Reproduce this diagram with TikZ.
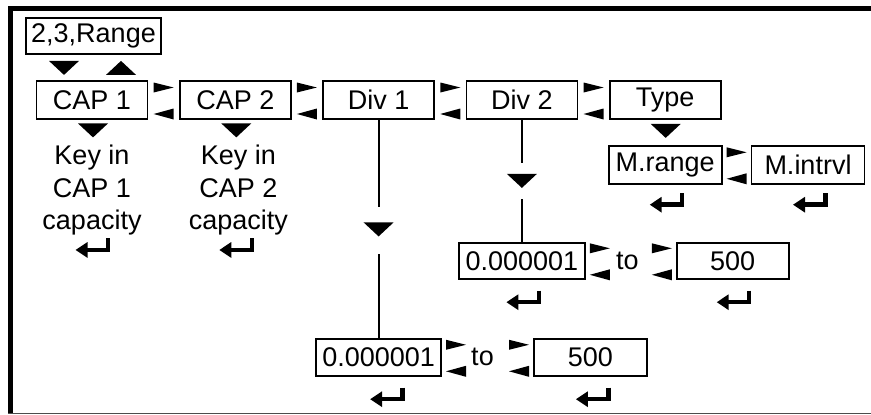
\documentclass[tikz,border=0pt]{standalone}
\usepackage{fontspec}
\setmainfont{Liberation Sans}
\usetikzlibrary{arrows.meta, positioning, calc}

\begin{document}
\begin{tikzpicture}[
    x=1pt, y=1pt,
    box/.style={rectangle, draw, line width=1.8pt, minimum width=#1, minimum height=38pt, inner sep=1pt, font=\fontsize{27}{32}\selectfont},
    box/.default={111pt},
    note/.style={align=center, inner sep=0pt, font=\fontsize{27}{32.5}\selectfont},
    wire/.style={line width=1.8pt},
    dtri/.pic={\fill (-15,7) -- (15,7) -- (0,-7) -- cycle;},
    utri/.pic={\fill (-15,-7) -- (15,-7) -- (0,7) -- cycle;},
    nav/.pic={\fill (-10,17.5) -- (10,12.5) -- (-10,7.5) -- cycle;
              \fill (10,-8.5) -- (-10,-14) -- (10,-19.5) -- cycle;},
    ret/.pic={\draw[line width=4.5pt, -{Triangle[length=12pt,width=15pt]}] (15,9.5) -- (15,-2) -- (-17.5,-2);},
]
    \useasboundingbox (0,0) rectangle (871,-415);

    % Frame
    \fill (8,-6) rectangle (871,-11);
    \fill (8,-6) rectangle (13,-413);
    \draw[black!70, line width=1.5pt] (8,-413.5) -- (871,-413.5);

    % Top row
    \node[box=135pt, minimum height=36pt] (range) at (93.5,-36) {2,3,Range};
    \node[box] (cap1) at (92,-100) {CAP 1};
    \node[box, right=30.5pt of cap1] (cap2) {CAP 2};
    \node[box, right=30.5pt of cap2] (div1) {Div 1};
    \node[box, right=30.5pt of div1] (div2) {Div 2};
    \node[box, right=30.5pt of div2] (type) {Type};
    \node[box=113pt, below=25pt of type] (mrange) {M.range};
    \node[box=113pt, right=28pt of mrange] (mintrvl) {M.intrvl};

    % Key-in texts
    \node[note, below=25pt of cap1] (key1) {Key in\\CAP 1\\capacity};
    \node[note, below=25pt of cap2, xshift=3pt] (key2) {Key in\\CAP 2\\capacity};

    % Div 2 range
    \node[box=126pt, minimum height=36pt, below=122pt of div2] (dlo) {0.000001};
    \node[box=112pt, minimum height=36pt, right=90pt of dlo] (dhi) {500};
    \node[note, xshift=-3.5pt] (dto) at ($(dlo.east)!0.5!(dhi.west)$) {to};

    % Div 1 range
    \node[box=125pt, minimum height=37pt, below=218pt of div1] (llo) {0.000001};
    \node[box=113pt, minimum height=37pt, right=91pt of llo] (lhi) {500};
    \node[note, xshift=-5pt] (lto) at ($(llo.east)!0.5!(lhi.west)$) {to};

    % Up / down marks
    \pic at ([xshift=-29.5pt,yshift=-13pt]range.south) {dtri};
    \pic at ([xshift=27.5pt,yshift=-13pt]range.south) {utri};
    \pic at ([xshift=1pt,yshift=-10.5pt]cap1.south) {dtri};
    \pic at ([xshift=1pt,yshift=-10.5pt]cap2.south) {dtri};
    \pic at ([xshift=0.5pt,yshift=-11pt]type.south) {dtri};

    % Left / right marks
    \pic at ($(cap1.east)!0.5!(cap2.west)$) {nav};
    \pic at ($(cap2.east)!0.5!(div1.west)$) {nav};
    \pic at ($(div1.east)!0.5!(div2.west)$) {nav};
    \pic at ($(div2.east)!0.5!(type.west)$) {nav};
    \pic at ($(mrange.east)!0.5!(mintrvl.west)$) {nav};
    \pic at ([xshift=14pt]dlo.east) {nav};
    \pic at ([xshift=-14pt]dhi.west) {nav};
    \pic at ([xshift=14pt]llo.east) {nav};
    \pic at ([xshift=-14pt]lhi.west) {nav};

    % Div links with a mark half way
    \coordinate (d1tri) at ([yshift=-109.5pt]div1.south);
    \pic at (d1tri) {dtri};
    \draw[wire, shorten >=22.5pt] (div1.south) -- (d1tri);
    \draw[wire, shorten >=24.5pt] (llo.north) -- (d1tri);
    \coordinate (d2tri) at ([yshift=-61pt]div2.south);
    \pic at (d2tri) {dtri};
    \draw[wire, shorten >=18pt] (div2.south) -- (d2tri);
    \draw[wire, shorten >=18pt] (dlo.north) -- (d2tri);

    % Enter marks
    \pic at ([xshift=1pt,yshift=-12.5pt]key1.south) {ret};
    \pic at ([xshift=-1.5pt,yshift=-12.5pt]key2.south) {ret};
    \pic at ([xshift=2pt,yshift=-18pt]mrange.south) {ret};
    \pic at ([xshift=2.5pt,yshift=-18pt]mintrvl.south) {ret};
    \pic at ([xshift=2pt,yshift=-20.5pt]dlo.south) {ret};
    \pic at ([xshift=1.5pt,yshift=-20.5pt]dhi.south) {ret};
    \pic at ([xshift=9pt,yshift=-20.5pt]llo.south) {ret};
    \pic at ([xshift=3pt,yshift=-20.5pt]lhi.south) {ret};
\end{tikzpicture}
\end{document}
